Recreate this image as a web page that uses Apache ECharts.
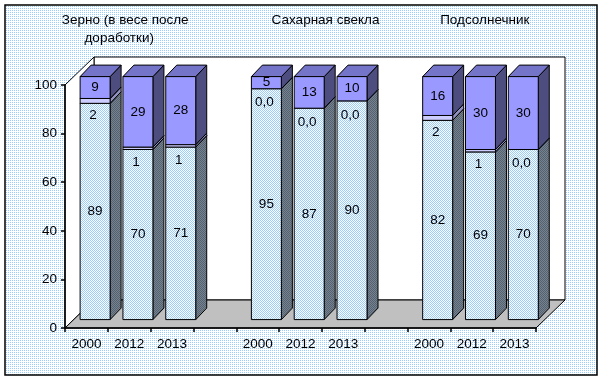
<!DOCTYPE html>
<html>
<head>
<meta charset="utf-8">
<script src="https://cdn.jsdelivr.net/npm/echarts@6/dist/echarts.min.js"></script>
<style>
html,body{margin:0;padding:0;background:#fff;}
#chart{width:603px;height:381px;}
</style>
</head>
<body>
<div id="chart"></div>
<script>
// ---- data ----
const categories = ['2000', '2012', '2013', '', '2000', '2012', '2013', '', '2000', '2012', '2013'];
const lowerShare  = [89, 70, 71, null, 95, 87, 90, null, 82, 69, 70];
const middleShare = [2, 1, 1, null, 0, 0, 0, null, 2, 1, 0];
const upperShare  = [9, 29, 28, null, 5, 13, 10, null, 16, 30, 30];
const groupTitles = ['Зерно (в весе после', 'доработки)', 'Сахарная свекла', 'Подсолнечник'];
const yMin = 0, yMax = 100, yStep = 20;

// ---- styling helpers ----
const FONT = '"Liberation Sans", Arial, sans-serif';
function checker(c1, c2, sparse) {
  const cv = document.createElement('canvas');
  cv.width = 2; cv.height = 2;
  const g = cv.getContext('2d');
  g.fillStyle = c2; g.fillRect(0, 0, 2, 2);
  g.fillStyle = c1;
  g.fillRect(0, 0, 1, 1);
  if (!sparse) g.fillRect(1, 1, 1, 1);
  return { image: cv, repeat: 'repeat' };
}
const WALL = [29, -28];      // depth of the 3D box (px)
const BAR_OFF = 0.3;         // bars start this far into the depth
const BAR_D = [11, -11.5];   // bar depth
const styles = [
  { front: checker('#99CCFF', '#FFFFFF'), side: checker('#4A6480', '#808080'), top: '#8FB4DA' },
  { front: '#CCCCFF', side: '#8F8FC0', top: '#B0B0E8' },
  { front: '#9999FF', side: '#4D4D80', top: '#7474C8' }
];

function buildData(idx) {
  const out = [];
  for (let i = 0; i < categories.length; i++) {
    if (lowerShare[i] == null) continue;
    const parts = [lowerShare[i], middleShare[i], upperShare[i]];
    let s = 0;
    for (let k = 0; k < idx; k++) s += parts[k];
    out.push([i, s, s + parts[idx], parts[idx]]);
  }
  return out;
}

function makeRender(idx) {
  const st = styles[idx];
  return function (params, api) {
    const i = api.value(0), s = api.value(1), e = api.value(2), v = api.value(3);
    const band = api.size([1, 0])[0];
    const c0 = api.coord([i, s]);
    const c1 = api.coord([i, e]);
    const half = band * 0.35;
    const left = c0[0] - half + BAR_OFF * WALL[0];
    const right = c0[0] + half + BAR_OFF * WALL[0];
    const yb = c0[1] + BAR_OFF * WALL[1];
    const yt = c1[1] + BAR_OFF * WALL[1];
    const dx = BAR_D[0], dy = BAR_D[1];
    const children = [];
    if (e > s) {
      children.push({
        type: 'polygon',
        shape: { points: [[right, yb], [right + dx, yb + dy], [right + dx, yt + dy], [right, yt]] },
        style: { fill: st.side, stroke: '#000', lineWidth: 1 }
      });
      children.push({
        type: 'polygon',
        shape: { points: [[left, yt], [left + dx, yt + dy], [right + dx, yt + dy], [right, yt]] },
        style: { fill: st.top, stroke: '#000', lineWidth: 1 }
      });
      children.push({
        type: 'rect',
        shape: { x: left, y: yt, width: right - left, height: yb - yt },
        style: { fill: st.front, stroke: '#000', lineWidth: 1 }
      });
    }
    const cx = (left + right) / 2 + (idx === 1 ? -2 : 0);
    const cy = (yb + yt) / 2 + (idx === 1 ? 14 : 0);
    children.push({
      type: 'text',
      z2: 10,
      style: {
        text: v === 0 ? '0,0' : String(v),
        x: cx, y: cy, align: 'center', verticalAlign: 'middle',
        fontSize: 13.5, fontFamily: FONT, fill: '#000'
      }
    });
    return { type: 'group', children: children };
  };
}

const chart = echarts.init(document.getElementById('chart'), null, { renderer: 'canvas' });
const option = {
  animation: false,
  grid: { left: 65, right: 67, top: 85, bottom: 53 },
  xAxis: {
    type: 'category',
    data: categories,
    boundaryGap: true,
    axisLine: { lineStyle: { color: '#000', width: 1.5 } },
    axisTick: { show: true, interval: 0, length: 4, lineStyle: { color: '#000', width: 1.5 } },
    axisLabel: { interval: 0, color: '#000', fontSize: 13.5, fontFamily: FONT, margin: 9 },
    splitLine: { show: false },
    z: 5
  },
  yAxis: {
    type: 'value',
    min: yMin, max: yMax, interval: yStep,
    axisLine: { show: true, lineStyle: { color: '#000', width: 1.5 } },
    axisTick: { show: true, length: 4, lineStyle: { color: '#000', width: 1.5 } },
    axisLabel: { color: '#000', fontSize: 13.5, fontFamily: FONT, margin: 8 },
    splitLine: { show: false },
    z: 5
  },
  series: [0, 1, 2].map(function (k) {
    return {
      type: 'custom',
      name: 'part' + k,
      renderItem: makeRender(k),
      data: buildData(k),
      encode: { x: 0, y: [1, 2] },
      clip: false,
      z: 2 + k
    };
  })
};
chart.setOption(option);

// ---- 3D frame (walls, floor) and background ----
const p0 = chart.convertToPixel({ xAxisIndex: 0, yAxisIndex: 0 }, [0, yMin]);
const pN = chart.convertToPixel({ xAxisIndex: 0, yAxisIndex: 0 }, [categories.length - 1, yMax]);
const bw = (pN[0] - p0[0]) / (categories.length - 1);
const L = p0[0] - bw / 2, R = pN[0] + bw / 2, B = p0[1], T = pN[1];
const Dx = WALL[0], Dy = WALL[1];
function px(p) { return chart.convertToPixel({ xAxisIndex: 0, yAxisIndex: 0 }, p); }

const titleStyle = { fontSize: 13.5, fontFamily: FONT, fill: '#000', align: 'center', verticalAlign: 'middle' };
chart.setOption({
  graphic: [
    { type: 'rect', z: -20, shape: { x: 5, y: 5, width: 592, height: 370 },
      style: { fill: checker('#99CCFF', '#FFFFFF', true), stroke: '#000', lineWidth: 1.5 } },
    { type: 'polygon', z: -10, shape: { points: [[L + Dx, T + Dy], [R + Dx, T + Dy], [R + Dx, B + Dy], [L + Dx, B + Dy]] },
      style: { fill: '#FFFFFF', stroke: '#000', lineWidth: 1 } },
    { type: 'polygon', z: -9, shape: { points: [[L, T], [L + Dx, T + Dy], [L + Dx, B + Dy], [L, B]] },
      style: { fill: '#FFFFFF', stroke: '#000', lineWidth: 1 } },
    { type: 'polygon', z: -8, shape: { points: [[L, B], [R, B], [R + Dx, B + Dy], [L + Dx, B + Dy]] },
      style: { fill: '#C0C0C0', stroke: '#000', lineWidth: 1 } },
    { type: 'text', z: 10, style: Object.assign({ text: groupTitles[0], x: px([1, 0])[0] - 4, y: 20 }, titleStyle) },
    { type: 'text', z: 10, style: Object.assign({ text: groupTitles[1], x: px([1, 0])[0] - 10, y: 38 }, titleStyle) },
    { type: 'text', z: 10, style: Object.assign({ text: groupTitles[2], x: px([5, 0])[0] + 25, y: 20 }, titleStyle) },
    { type: 'text', z: 10, style: Object.assign({ text: groupTitles[3], x: px([9, 0])[0] + 13, y: 20 }, titleStyle) }
  ]
});
</script>
</body>
</html>
